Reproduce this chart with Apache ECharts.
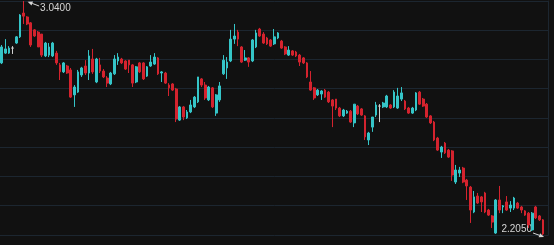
<!DOCTYPE html>
<html><head><meta charset="utf-8">
<script src="https://cdn.jsdelivr.net/npm/echarts@6/dist/echarts.min.js"></script>
<style>html,body{margin:0;padding:0;background:#111111;overflow:hidden}#c{width:554px;height:245px;}</style>
</head><body><div id="c"></div>
<script>
const opens = [
2.819,2.854,2.854,2.872,2.890,2.912,2.997,2.983,2.962,2.937,
2.929,2.922,2.844,2.847,2.844,2.854,2.812,2.787,2.808,2.794,
2.705,2.715,2.776,2.808,2.783,2.833,2.751,2.812,2.790,2.765,
2.744,2.780,2.826,2.833,2.826,2.829,2.812,2.751,2.819,2.819,
2.772,2.808,2.815,2.837,2.783,2.783,2.740,2.744,2.726,2.615,
2.662,2.623,2.644,2.662,2.680,2.762,2.740,2.687,2.730,2.640,
2.687,2.780,2.801,2.826,2.904,2.929,2.876,2.829,2.837,2.826,
2.876,2.940,2.922,2.908,2.901,2.887,2.908,2.897,2.876,2.847,
2.862,2.858,2.847,2.837,2.819,2.751,2.730,2.705,2.708,2.722,
2.715,2.687,2.690,2.658,2.630,2.640,2.647,2.605,2.665,2.655,
2.630,2.544,2.590,2.633,2.665,2.662,2.662,2.669,2.662,2.658,
2.690,2.683,2.658,2.640,2.651,2.715,2.690,2.672,2.630,2.608,
2.551,2.501,2.533,2.508,2.505,2.394,2.426,2.444,2.401,2.376,
2.287,2.344,2.341,2.355,2.294,2.273,2.212,2.330,2.305,2.323,
2.301,2.301,2.319,2.305,2.291,2.283,2.223,2.305,2.273,2.259
];
const closes = [
2.876,2.869,2.872,2.872,2.912,2.990,2.986,2.958,2.883,2.915,
2.876,2.847,2.890,2.876,2.890,2.819,2.787,2.819,2.783,2.697,
2.733,2.787,2.801,2.783,2.844,2.787,2.833,2.790,2.769,2.747,
2.783,2.833,2.840,2.819,2.797,2.812,2.747,2.805,2.787,2.762,
2.805,2.822,2.840,2.780,2.787,2.747,2.730,2.722,2.619,2.662,
2.626,2.644,2.669,2.697,2.769,2.740,2.694,2.733,2.662,2.705,
2.737,2.829,2.822,2.904,2.915,2.904,2.822,2.837,2.822,2.901,
2.926,2.915,2.890,2.887,2.879,2.912,2.926,2.872,2.851,2.865,
2.847,2.844,2.822,2.819,2.769,2.722,2.694,2.722,2.719,2.697,
2.680,2.665,2.658,2.630,2.651,2.647,2.608,2.672,2.637,2.633,
2.555,2.569,2.626,2.669,2.665,2.676,2.701,2.658,2.715,2.701,
2.712,2.655,2.640,2.658,2.712,2.672,2.665,2.626,2.605,2.544,
2.508,2.519,2.498,2.483,2.419,2.437,2.437,2.394,2.380,2.294,
2.341,2.319,2.323,2.287,2.276,2.251,2.330,2.294,2.309,2.294,
2.312,2.337,2.301,2.294,2.276,2.241,2.283,2.266,2.259,2.209
];
const lows = [
2.815,2.851,2.851,2.851,2.887,2.908,2.958,2.954,2.876,2.912,
2.876,2.840,2.840,2.840,2.840,2.812,2.758,2.783,2.780,2.694,
2.662,2.712,2.769,2.776,2.758,2.780,2.747,2.783,2.765,2.733,
2.740,2.776,2.812,2.815,2.794,2.783,2.733,2.747,2.783,2.758,
2.769,2.805,2.812,2.776,2.751,2.744,2.701,2.719,2.608,2.612,
2.615,2.619,2.640,2.658,2.676,2.733,2.687,2.683,2.658,2.630,
2.680,2.776,2.762,2.822,2.887,2.879,2.819,2.826,2.805,2.822,
2.872,2.912,2.887,2.883,2.876,2.883,2.904,2.869,2.847,2.844,
2.844,2.840,2.808,2.815,2.765,2.719,2.687,2.701,2.687,2.694,
2.676,2.590,2.651,2.626,2.626,2.637,2.605,2.590,2.633,2.630,
2.544,2.526,2.573,2.626,2.608,2.658,2.658,2.655,2.658,2.655,
2.683,2.651,2.637,2.637,2.647,2.669,2.662,2.623,2.601,2.540,
2.505,2.480,2.494,2.480,2.398,2.387,2.412,2.390,2.330,2.248,
2.283,2.316,2.287,2.283,2.273,2.230,2.209,2.283,2.283,2.291,
2.287,2.294,2.298,2.283,2.273,2.230,2.219,2.262,2.255,2.205
];
const highs = [
2.883,2.904,2.879,2.879,2.915,2.993,3.040,2.986,2.965,2.940,
2.933,2.922,2.894,2.890,2.894,2.862,2.819,2.822,2.812,2.801,
2.740,2.794,2.805,2.829,2.865,2.869,2.837,2.837,2.797,2.772,
2.787,2.847,2.854,2.837,2.829,2.829,2.815,2.808,2.822,2.822,
2.808,2.847,2.854,2.840,2.790,2.787,2.747,2.747,2.730,2.665,
2.665,2.651,2.687,2.701,2.769,2.765,2.751,2.737,2.733,2.708,
2.751,2.847,2.840,2.937,2.958,2.937,2.879,2.865,2.840,2.904,
2.937,2.944,2.929,2.912,2.904,2.940,2.929,2.901,2.879,2.879,
2.865,2.862,2.851,2.840,2.822,2.790,2.733,2.726,2.722,2.726,
2.719,2.690,2.690,2.662,2.655,2.651,2.651,2.672,2.669,2.658,
2.633,2.573,2.626,2.680,2.672,2.680,2.705,2.672,2.722,2.730,
2.733,2.687,2.662,2.662,2.715,2.719,2.694,2.676,2.633,2.612,
2.555,2.523,2.537,2.512,2.508,2.455,2.448,2.448,2.405,2.380,
2.362,2.355,2.344,2.359,2.298,2.276,2.333,2.380,2.312,2.344,
2.326,2.341,2.323,2.309,2.294,2.287,2.287,2.309,2.276,2.262
];
const categories = opens.map((_, i) => String(i + 1));

const BG = '#111111', GRID = '#1c2630', UP = '#35c5c8', DOWN = '#d4232e', DOJI = '#d0d0d0', TXT = '#d6d6d6';
const yMin = Math.min(...lows), yMax = Math.max(...highs);

const chart = echarts.init(document.getElementById('c'), null, {renderer: 'canvas'});
const candles = opens.map((o, i) => [o, closes[i], lows[i], highs[i]]);
chart.setOption({
  backgroundColor: BG,
  animation: false,
  grid: {left: -1.1, right: 5.5, top: 1, bottom: 10},
  xAxis: {type: 'category', data: categories.concat(['']), boundaryGap: true,
    axisLine: {show: false}, axisTick: {show: false}, axisLabel: {show: false}, splitLine: {show: false}},
  yAxis: {type: 'value', position: 'right', min: yMin, max: yMax, interval: (yMax - yMin) / 8, scale: true,
    axisLine: {show: true, lineStyle: {color: GRID}}, axisTick: {show: false}, axisLabel: {show: false},
    splitLine: {show: true, lineStyle: {color: GRID, width: 1}}},
  series: [{type: 'candlestick', data: candles, barWidth: '62%',
    itemStyle: {color: UP, color0: DOWN, borderColor: UP, borderColor0: DOWN, borderColorDoji: DOJI, borderWidth: 1}}]
});

function arrow(tip, tail) {
  const dx = tip[0] - tail[0], dy = tip[1] - tail[1];
  const len = Math.sqrt(dx * dx + dy * dy);
  const ux = dx / len, uy = dy / len, nx = -uy, ny = ux;
  const bx = tip[0] - ux * 5, by = tip[1] - uy * 5;
  return [
    {type: 'line', shape: {x1: tail[0], y1: tail[1], x2: bx, y2: by}, style: {stroke: TXT, lineWidth: 1}, silent: true},
    {type: 'polygon', shape: {points: [tip, [bx + nx * 2.2, by + ny * 2.2], [bx - nx * 2.2, by - ny * 2.2]]}, style: {fill: TXT}, silent: true}
  ];
}
const iMax = highs.indexOf(yMax), iMin = lows.indexOf(yMin);
const pMax = chart.convertToPixel({gridIndex: 0}, [iMax, yMax]);
const pMin = chart.convertToPixel({gridIndex: 0}, [iMin, yMin]);
const els = [];
els.push(...arrow([pMax[0] + 4, pMax[1] + 0.7], [pMax[0] + 15.5, pMax[1] + 5]));
els.push({type: 'text', x: pMax[0] + 16.5, y: pMax[1] + 7.3, silent: true,
  style: {text: yMax.toFixed(4), fill: TXT, font: '10px "Liberation Sans", Arial, sans-serif', align: 'left', verticalAlign: 'middle'}});
els.push(...arrow([pMin[0] + 1, pMin[1] + 2], [pMin[0] - 10, pMin[1] - 2]));
els.push({type: 'text', x: pMin[0] - 11, y: pMin[1] - 6, silent: true,
  style: {text: yMin.toFixed(4), fill: TXT, font: '10px "Liberation Sans", Arial, sans-serif', align: 'right', verticalAlign: 'middle'}});
chart.setOption({graphic: {elements: els}});
</script>
</body></html>
